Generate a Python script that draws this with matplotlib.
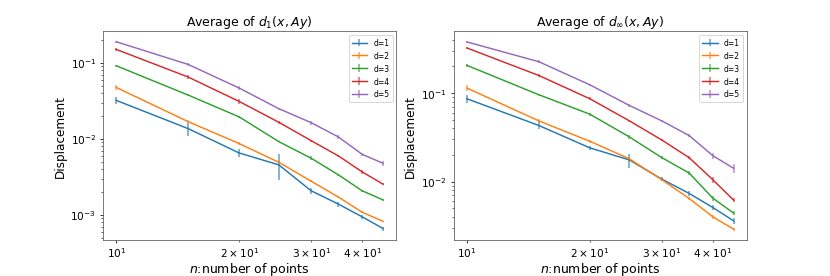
import numpy as np
import matplotlib
matplotlib.use('Agg')
import matplotlib.pyplot as plt

# number of points
n = [10, 15, 20, 25, 30, 35, 40, 45]
labels = ['d=1', 'd=2', 'd=3', 'd=4', 'd=5']

# average of d_1(x, Ay)
d1_mean = [
    [0.0320, 0.0136, 0.00650, 0.00454, 0.00207, 0.00138, 0.00094, 0.00066],
    [0.0474, 0.0168, 0.00865, 0.00491, 0.00277, 0.00171, 0.00108, 0.00082],
    [0.0914, 0.0376, 0.0194, 0.00918, 0.00555, 0.00335, 0.00207, 0.00157],
    [0.150, 0.0649, 0.0310, 0.0165, 0.00946, 0.00595, 0.00367, 0.00253],
    [0.189, 0.0951, 0.0465, 0.0249, 0.0163, 0.01056, 0.00625, 0.00476],
]
d1_err = [
    [0.0037, 0.0026, 0.0008, 0.0017, 0.0002, 0.0001, 0.00006, 0.00004],
    [0.0040, 0.0006, 0.0003, 0.00015, 0.0001, 0.00005, 0.00003, 0.00002],
    [0.0030, 0.0012, 0.0008, 0.0002, 0.0003, 0.0001, 0.00005, 0.00003],
    [0.0050, 0.0040, 0.0025, 0.0008, 0.0003, 0.0002, 0.0002, 0.0001],
    [0.0050, 0.0050, 0.0030, 0.0008, 0.0010, 0.0005, 0.0003, 0.0004],
]

# average of d_inf(x, Ay)
dinf_mean = [
    [0.0863, 0.0431, 0.0241, 0.0176, 0.0107, 0.00738, 0.00512, 0.00361],
    [0.114, 0.0486, 0.0286, 0.0181, 0.01054, 0.00648, 0.00402, 0.00291],
    [0.2056, 0.0958, 0.0578, 0.0320, 0.0187, 0.01254, 0.00653, 0.00442],
    [0.323, 0.158, 0.0863, 0.0486, 0.0296, 0.0187, 0.01054, 0.00619],
    [0.378, 0.226, 0.124, 0.0725, 0.0486, 0.0332, 0.0197, 0.01416],
]
dinf_err = [
    [0.009, 0.004, 0.0015, 0.0032, 0.0006, 0.0005, 0.0003, 0.0003],
    [0.008, 0.003, 0.0010, 0.0008, 0.0004, 0.0003, 0.0002, 0.0001],
    [0.010, 0.003, 0.0020, 0.0015, 0.0006, 0.0006, 0.0004, 0.0002],
    [0.010, 0.006, 0.0030, 0.0010, 0.0010, 0.0008, 0.0008, 0.0003],
    [0.010, 0.008, 0.0030, 0.0020, 0.0010, 0.0015, 0.0015, 0.0015],
]

plt.rcParams['font.size'] = 11
plt.rcParams['axes.edgecolor'] = '#555555'

fig, axes = plt.subplots(1, 2, figsize=(12, 4))
fig.subplots_adjust(left=0.124, right=0.9, top=0.884, bottom=0.13, wspace=0.195)

panels = [
    (axes[0], d1_mean, d1_err, r'Average of $d_1(x, Ay)$'),
    (axes[1], dinf_mean, dinf_err, r'Average of $d_\infty(x, Ay)$'),
]

for ax, means, errs, title in panels:
    for m, e, lab in zip(means, errs, labels):
        eb = ax.errorbar(n, m, yerr=e, label=lab, elinewidth=1.6)
        eb[2][0].set_alpha(0.7)
    ax.set_xscale('log')
    ax.set_yscale('log')
    ax.set_title(title, fontsize=13)
    ax.set_xlabel(r'$n$:number of points', fontsize=13, labelpad=1)
    ax.set_ylabel('Displacement', fontsize=12.5)
    ax.tick_params(axis='x', pad=2)
    ax.legend(loc='upper right', fontsize=8)

fig.savefig('out.png', dpi=830/12)
